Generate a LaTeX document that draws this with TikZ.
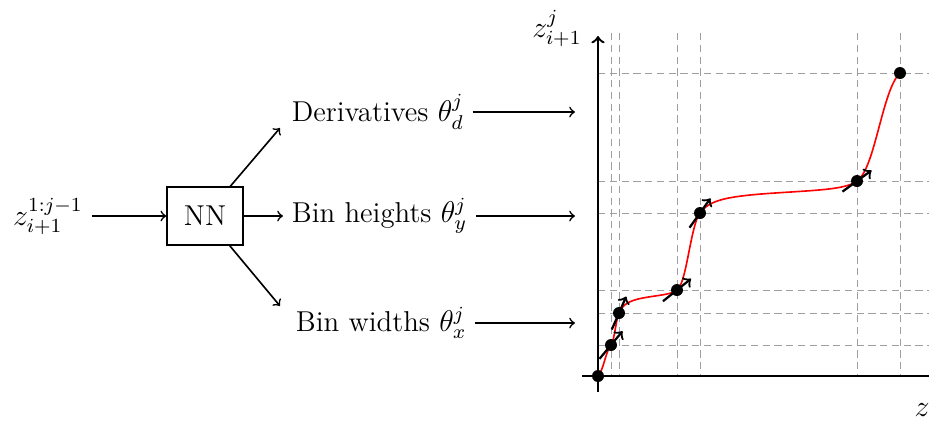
\documentclass[tikz,border=0pt]{standalone}
\usetikzlibrary{calc}
\newcommand\rqspline[6]{%
  \pgfmathsetmacro\rqslope{(#4-#2)/(#3-#1)}%
  \draw[curve] plot[domain=0:1,samples=50] ({598+#1+(#3-#1)*\x},{376-#2-(#4-#2)*(\rqslope*\x*\x+#5*\x*(1-\x))/(\rqslope+(#6+#5-2*\rqslope)*\x*(1-\x))});%
}
\newcommand\derivarrow[2]{%
  \draw[darrow] ($(#1)+({-18*cos(#2)},{18*sin(#2)})$) -- ($(#1)+({18*cos(#2)},{-18*sin(#2)})$);%
}
\begin{document}
\begin{tikzpicture}[x=0.4pt,y=-0.4pt,
  every node/.style={font=\fontsize{11.5}{14}\selectfont},
  conn/.style={->,line width=0.65pt},
  box/.style={draw,line width=0.55pt,minimum width=30.4pt,minimum height=23.2pt},
  grid/.style={gray!75,line width=0.4pt,dash pattern=on 2.9pt off 1.8pt},
  axis/.style={->,line width=0.95pt},
  curve/.style={red,line width=0.65pt},
  darrow/.style={->,line width=0.9pt},
  knot/.style={circle,fill=black,inner sep=0pt,minimum size=4.8pt}]
\useasboundingbox (0,0) rectangle (929,429);
% left part
\node (inp) at (48,216) {$z_{i+1}^{1:j-1}$};
\node[box] (nn) at (205,216) {NN};
\node[anchor=west] (der) at (283,112) {Derivatives $\theta_d^j$};
\node[anchor=west] (hei) at (283,216) {Bin heights $\theta_y^j$};
\node[anchor=west] (wid) at (287,323) {Bin widths $\theta_x^j$};
\coordinate (dtip) at (280,128);
\coordinate (wtip) at (280,306);
\coordinate (dend) at (575,112);
\coordinate (hend) at (575,216);
\coordinate (wend) at (575,323);
\draw[conn] (inp) -- (nn);
\draw[conn] (nn) -- (hei);
\draw[conn] (nn) -- (dtip);
\draw[conn] (nn) -- (wtip);
\draw[conn] (der) -- (dend);
\draw[conn] (hei) -- (hend);
\draw[conn] (wid) -- (wend);
% plot
\coordinate (k0) at (598,376);
\coordinate (k1) at (611,345);
\coordinate (k2) at (619,313);
\coordinate (k3) at (677,290);
\coordinate (k4) at (700,213);
\coordinate (k5) at (857,181);
\coordinate (k6) at (900,73);
\foreach \k in {k1,k2,k3,k4,k5,k6}{
  \draw[grid] (\k |- 0,33) -- (\k |- k0);
  \draw[grid] (k0 |- \k) -- (929,0 |- \k);
}
\draw[axis] (582,376) -- (938,376);
\draw[axis] (598,392) -- (598,36);
\node (ylab) at (557,28) {$z_{i+1}^{j}$};
\node (xlab) at (922,410) {$z$};
\rqspline{0}{0}{13}{31}{1}{1.2}
\rqspline{13}{31}{21}{63}{1.2}{2.29}
\rqspline{21}{63}{79}{86}{2.29}{0.8}
\rqspline{79}{86}{102}{163}{0.8}{1.4}
\rqspline{102}{163}{259}{195}{1.4}{0.73}
\rqspline{259}{195}{302}{303}{0.73}{1}
\foreach \k in {k0,k1,k2,k3,k4,k5,k6}{
  \node[knot] at (\k) {};
}
\derivarrow{k1}{50.2}
\derivarrow{k2}{66.4}
\derivarrow{k3}{38.7}
\derivarrow{k4}{54.5}
\derivarrow{k5}{36.1}
\end{tikzpicture}
\end{document}
